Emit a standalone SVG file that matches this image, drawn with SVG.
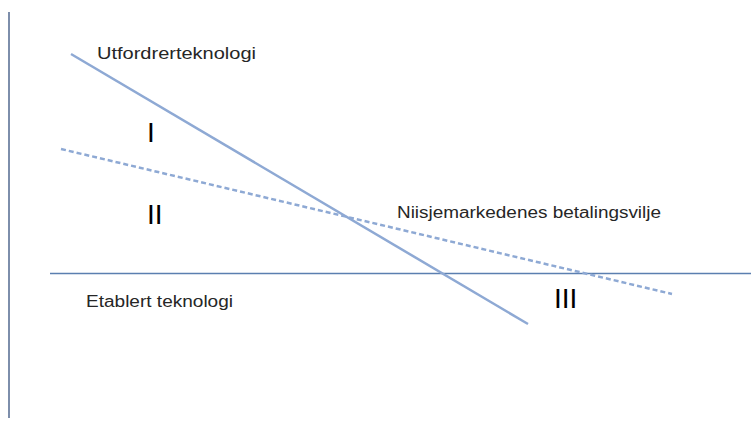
<svg xmlns="http://www.w3.org/2000/svg" width="751" height="423" viewBox="0 0 751 423">
<style>
.lbl{font-family:"Liberation Sans",Arial,sans-serif;font-size:16px;fill:#262626}
.num{font-family:"Liberation Sans",Arial,sans-serif;font-size:28px;fill:#000}
.curve{stroke:#8ea9d4;stroke-width:2.5;fill:none}
</style>
<rect width="751" height="423" fill="#fff"/>
<g id="connectors">
<line id="axis-y" x1="9" y1="12" x2="9" y2="418" stroke="#7d8eab" stroke-width="2"/>
<line id="etablert" x1="50" y1="273.5" x2="751" y2="273.5" stroke="#5b7fb0" stroke-width="1.5"/>
<line id="utfordrer" class="curve" x1="71" y1="54" x2="528" y2="324"/>
<line id="niisje" class="curve" stroke-dasharray="5,3" x1="61" y1="149" x2="672" y2="294"/>
</g>
<g id="label-utfordrer"><text class="lbl" x="97" y="59" textLength="159" lengthAdjust="spacingAndGlyphs">Utfordrerteknologi</text></g>
<g id="label-niisje"><text class="lbl" x="397" y="218" textLength="264" lengthAdjust="spacingAndGlyphs">Niisjemarkedenes betalingsvilje</text></g>
<g id="label-etablert"><text class="lbl" x="86" y="307" textLength="147" lengthAdjust="spacingAndGlyphs">Etablert teknologi</text></g>
<g id="region-I"><text class="num" x="147" y="142">I</text></g>
<g id="region-II"><text class="num" x="147" y="224">II</text></g>
<g id="region-III"><text class="num" x="554" y="308">III</text></g>
</svg>
